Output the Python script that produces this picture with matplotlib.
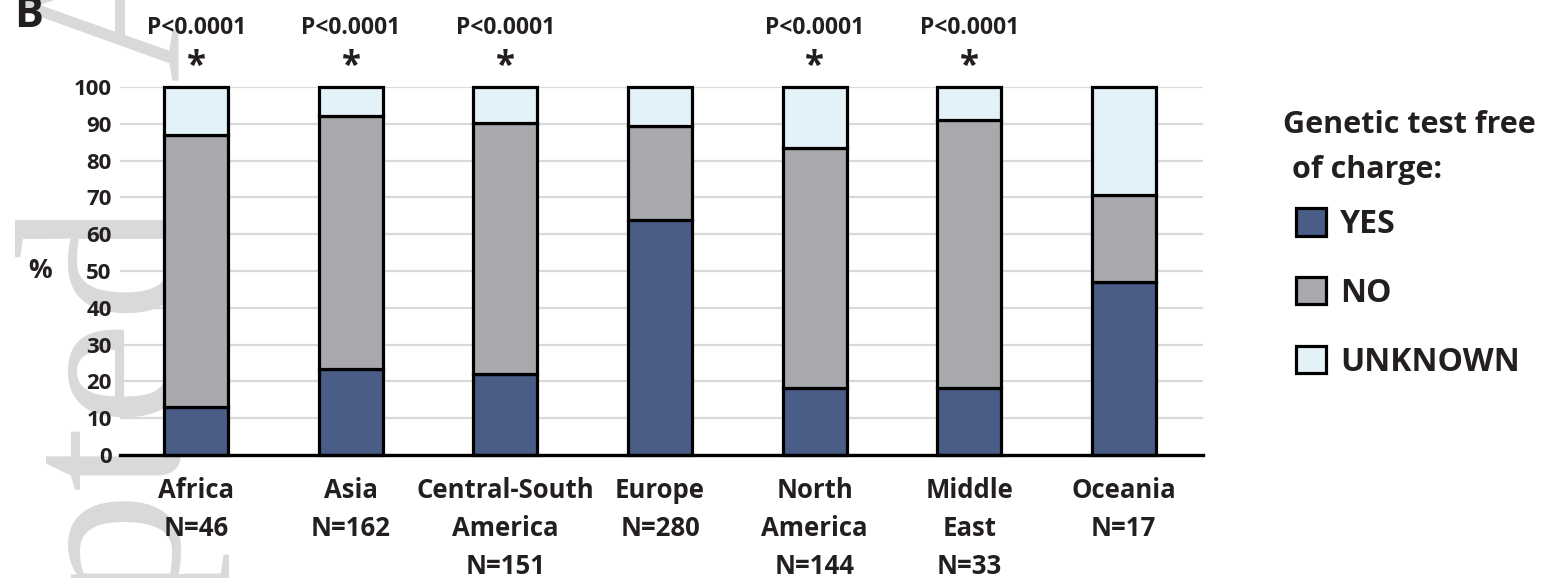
import matplotlib
matplotlib.use('Agg')
from matplotlib import pyplot as plt
from matplotlib import transforms
import numpy as np

REGIONS = ['Africa\nN=46', 'Asia\nN=162', 'Central-South\nAmerica\nN=151', 'Europe\nN=280',
           'North\nAmerica\nN=144', 'Middle\nEast\nN=33', 'Oceania\nN=17']
YES = [13.0, 23.5, 21.9, 63.9, 18.1, 18.2, 47.1]
NO = [73.9, 68.5, 68.2, 25.4, 65.3, 72.7, 23.5]
UNKNOWN = [13.1, 8.0, 9.9, 10.7, 16.6, 9.1, 29.4]
P_VALUES = ['P<0.0001', 'P<0.0001', 'P<0.0001', '', 'P<0.0001', 'P<0.0001', '']

YES_COLOR = '#4a5d87'
NO_COLOR = '#a8a9ad'
UNK_COLOR = '#e3f2f8'
INK = '#231f20'
W, H = 1552, 578


def main():
    plt.rcParams['font.family'] = 'Open Sans'
    plt.rcParams['font.weight'] = 'bold'
    fig = plt.figure(figsize=(W / 100, H / 100), dpi=100)

    # journal watermark sitting behind the chart
    wm = dict(rotation=90, rotation_mode='anchor', va='baseline', fontsize=170,
              family='Liberation Serif', fontweight='normal', color='#d9d9d9', zorder=-5)
    fig.text(178 / W, 1 - 200 / H, 'Accepted', ha='right', **wm)
    fig.text(178 / W, 1 - 80 / H, 'Article', ha='left', **wm)

    ax = fig.add_axes([120 / W, 123 / H, 1083 / W, 368 / H])
    ax.set_facecolor('none')
    x = np.arange(len(REGIONS))
    yes = np.array(YES)
    no = np.array(NO)
    unk = np.array(UNKNOWN)
    kw = dict(width=0.414, edgecolor='black', linewidth=2.3, zorder=3, clip_on=False)
    ax.bar(x, yes, color=YES_COLOR, label='YES', **kw)
    ax.bar(x, no, bottom=yes, color=NO_COLOR, label='NO', **kw)
    ax.bar(x, unk, bottom=yes + no, color=UNK_COLOR, label='UNKNOWN', **kw)

    ax.set_xlim(-0.494, 6.513)
    ax.set_ylim(0, 100)
    ax.set_yticks(np.arange(0, 101, 10))
    ax.yaxis.grid(True, color='#d9d9d9', linewidth=1.6, zorder=0)
    ax.set_axisbelow(True)
    for side in ['top', 'right', 'left']:
        ax.spines[side].set_visible(False)
    ax.spines['bottom'].set_linewidth(2.4)
    ax.spines['bottom'].set_zorder(4)
    ax.tick_params(axis='y', length=0, pad=6, labelsize=16, labelcolor=INK)
    ax.tick_params(axis='x', length=0, pad=16, labelsize=18.5, labelcolor=INK)
    ax.set_xticks(x)
    ax.set_xticklabels(REGIONS, linespacing=1.52, va='top')

    fig.text(40 / W, 1 - 270 / H, '%', fontsize=19, color=INK, ha='center', va='center')

    top = transforms.blended_transform_factory(ax.transData, fig.transFigure)
    for xi, p in zip(x, P_VALUES):
        if p:
            ax.text(xi, 1 - 34 / H, p, transform=top, ha='center', va='baseline',
                    fontsize=16.5, color=INK)
            ax.text(xi, 1 - 76 / H, '*', transform=top, ha='center', va='baseline',
                    fontsize=25, color=INK)

    fig.text(14 / W, 1 - 27 / H, 'B', fontsize=31, color=INK, ha='left', va='baseline')

    # legend title as two lines, the second one slightly indented
    fig.text(1283 / W, 1 - 133 / H, 'Genetic test free', fontsize=22, color=INK,
             ha='left', va='baseline')
    fig.text(1292 / W, 1 - 178 / H, 'of charge:', fontsize=22, color=INK,
             ha='left', va='baseline')
    leg = ax.legend(loc='upper left', bbox_to_anchor=(1296 / W, 1 - 208 / H),
                    bbox_transform=fig.transFigure, frameon=False, borderpad=0,
                    borderaxespad=0, fontsize=23, handlelength=0.94, handleheight=0.94,
                    handletextpad=0.45, labelspacing=1.12)
    for t in leg.get_texts():
        t.set_color(INK)

    fig.savefig('out.png', dpi=100)


if __name__ == '__main__':
    main()
